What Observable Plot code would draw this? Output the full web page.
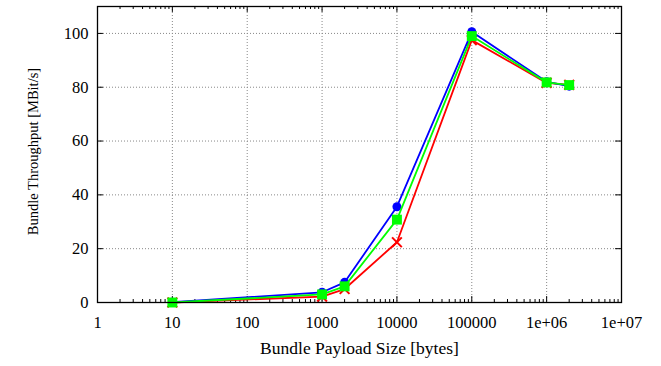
<!DOCTYPE html>
<html>
<head>
<meta charset="utf-8">
<script src="https://cdn.jsdelivr.net/npm/d3@7"></script>
<script src="https://cdn.jsdelivr.net/npm/@observablehq/plot@0.6"></script>
<style>
  html, body { margin: 0; padding: 0; background: #fff; }
</style>
</head>
<body>
<div id="chart"></div>
<script>
const sizes = [10, 1000, 2000, 10000, 100000, 1000000, 2000000];
const blueSeries = [0.1, 3.8, 7.5, 35.6, 100.6, 82.0, 80.4];
const redSeries = [0.0, 2.2, 5.0, 22.4, 97.5, 81.6, 80.9];
const greenSeries = [0.0, 3.0, 6.0, 30.8, 99.0, 81.8, 80.8];

const xTicks = [1, 10, 100, 1000, 10000, 100000, 1000000, 10000000];
const xTickLabels = ["1", "10", "100", "1000", "10000", "100000", "1e+06", "1e+07"];
const yTicks = [0, 20, 40, 60, 80, 100];
const xLabel = "Bundle Payload Size [bytes]";
const yLabel = "Bundle Throughput [MBit/s]";

const xMinor = [];
for (let k = 0; k < 7; k++) for (let m = 2; m <= 9; m++) xMinor.push(m * Math.pow(10, k));

const mk = (vals) => sizes.map((s, i) => ({x: s, y: vals[i]}));
const blue = mk(blueSeries), red = mk(redSeries), green = mk(greenSeries);
const labelMap = new Map(xTicks.map((t, i) => [t, xTickLabels[i]]));

const yMax = 110;
const majY = 2.2, minY = 1.1;     // tick lengths in y units
const majX = 1.2;                 // tick length factor in x (log)
const serif = "'Liberation Serif', 'DejaVu Serif', serif";

const chart = Plot.plot({
  width: 661,
  height: 366,
  marginLeft: 97,
  marginRight: 40,
  marginTop: 6,
  marginBottom: 64,
  style: {fontFamily: serif, fontSize: "16px", color: "#000", background: "#fff"},
  x: {type: "log", domain: [1, 1e7]},
  y: {domain: [0, yMax]},
  marks: [
    Plot.ruleX(xTicks.slice(1, -1), {x: d => d, stroke: "#888", strokeDasharray: "1,2", strokeWidth: 1}),
    Plot.ruleY(yTicks.slice(1), {y: d => d, stroke: "#888", strokeDasharray: "1,2", strokeWidth: 1}),
    Plot.ruleX(xTicks, {x: d => d, y1: 0, y2: majY, stroke: "#000"}),
    Plot.ruleX(xTicks, {x: d => d, y1: yMax, y2: yMax - majY, stroke: "#000"}),
    Plot.ruleX(xMinor, {x: d => d, y1: 0, y2: minY, stroke: "#000"}),
    Plot.ruleX(xMinor, {x: d => d, y1: yMax, y2: yMax - minY, stroke: "#000"}),
    Plot.ruleY(yTicks, {y: d => d, x1: 1, x2: majX, stroke: "#000"}),
    Plot.ruleY(yTicks, {y: d => d, x1: 1e7 / majX, x2: 1e7, stroke: "#000"}),
    Plot.axisX(xTicks, {tickSize: 0, tickPadding: 14, tickFormat: d => labelMap.get(d), label: null, fontSize: 16.5, fontFamily: serif}),
    Plot.axisY(yTicks, {tickSize: 0, tickPadding: 9, label: null, fontSize: 16.5, fontFamily: serif}),
    Plot.line(red, {x: "x", y: "y", stroke: "#ff0000", strokeWidth: 1.8}),
    Plot.dot(red, {x: "x", y: "y", symbol: "times", stroke: "#ff0000", strokeWidth: 2, r: 4.5}),
    Plot.line(blue, {x: "x", y: "y", stroke: "#0000ff", strokeWidth: 1.8}),
    Plot.dot(blue, {x: "x", y: "y", symbol: "circle", fill: "#0000ff", r: 4.5}),
    Plot.line(green, {x: "x", y: "y", stroke: "#00ff00", strokeWidth: 1.8}),
    Plot.dot(green, {x: "x", y: "y", symbol: "square", fill: "#00ff00", r: 5.6}),
    Plot.frame({stroke: "#000", strokeWidth: 1.3}),
    Plot.text([xLabel], {text: d => d, frameAnchor: "bottom", textAnchor: "middle", lineAnchor: "middle", dy: 46, fontSize: 17.5, fontFamily: serif}),
    Plot.text([yLabel], {text: d => d, frameAnchor: "left", textAnchor: "middle", lineAnchor: "middle", dx: -64, dy: -3, rotate: -90, fontSize: 14.5, fontFamily: serif})
  ]
});
document.getElementById("chart").appendChild(chart);
</script>
</body>
</html>
